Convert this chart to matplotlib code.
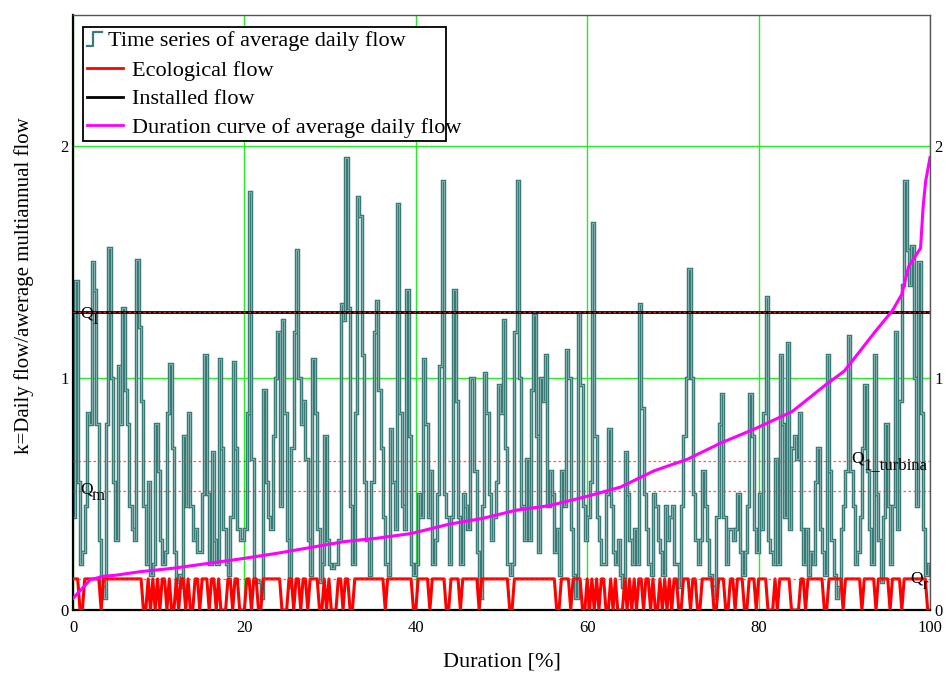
import matplotlib
matplotlib.use('Agg')
import matplotlib.pyplot as plt
import numpy as np
from matplotlib.legend_handler import HandlerBase
from matplotlib.lines import Line2D
from matplotlib.patches import Rectangle

# ---------------- data ----------------
flow_seg1 = [0.40, 1.42, 0.55, 0.20, 0.25, 0.45, 0.85, 0.80, 1.50, 1.38,
             0.80, 0.30, 0.10, 0.05, 0.80, 1.56, 1.00, 0.55, 0.30, 1.05,
             0.80, 1.30, 0.95, 0.80, 0.45, 0.35, 0.30, 1.51, 1.22, 0.90,
             0.45, 0.20, 0.55, 0.15, 0.20, 0.80, 0.60, 0.30, 0.20, 0.25,
             0.85, 1.06, 0.70, 0.25, 0.12, 0.15, 0.10, 0.75, 0.45, 0.85,
             0.45, 0.30, 0.35, 0.25, 0.25, 0.50, 1.10, 0.50, 0.20, 0.68,
             0.30, 0.20, 1.08, 0.70, 0.35, 0.20, 0.15, 0.40, 1.07, 0.70,
             0.35, 0.30, 0.30]
flow_seg2 = [0.35, 0.85, 1.80, 0.65, 0.13, 0.13, 0.12, 0.05, 0.95, 0.55,
             0.40, 0.35, 0.75, 1.00, 1.20, 0.45, 1.25, 0.85, 0.30, 0.10,
             0.70, 1.20, 1.55, 1.00, 0.80, 0.90, 0.65, 0.30, 0.15, 1.08,
             0.85, 0.35, 0.12, 0.20, 0.75, 0.30, 0.20, 0.18, 0.20, 0.20,
             0.30, 1.32, 1.25, 1.95, 1.30, 0.45, 0.20, 0.85, 1.78, 1.70,
             1.10, 0.55, 0.30, 0.15, 0.55, 1.20, 1.33, 0.95, 0.70, 0.40,
             0.20, 0.15, 0.78, 0.55, 0.35, 1.75, 0.85, 0.45, 0.35, 1.38,
             0.75, 0.20, 0.15]
flow_seg3 = [0.20, 0.50, 0.40, 1.08, 0.80, 0.40, 0.60, 0.20, 0.30, 0.50,
             1.05, 1.85, 0.50, 0.40, 0.20, 0.40, 1.38, 0.90, 0.40, 0.20,
             0.50, 0.45, 0.35, 1.00, 1.00, 0.60, 0.25, 0.05, 0.45, 1.02,
             0.85, 0.50, 0.30, 0.40, 0.55, 0.97, 0.85, 1.25, 0.70, 0.20,
             0.15, 0.20, 1.20, 1.85, 1.00, 0.45, 0.30, 0.65, 0.30, 0.95,
             1.27, 0.75, 0.25, 1.00, 0.90, 1.10, 0.45, 0.60, 0.50, 0.25,
             0.35, 0.15, 0.60, 0.45, 1.12, 1.00, 0.35, 0.15, 0.05, 1.28,
             0.97, 0.45, 0.30]
flow_seg4 = [0.40, 0.55, 1.67, 0.75, 0.40, 0.30, 0.20, 0.20, 0.50, 0.78,
             0.45, 0.25, 0.20, 0.30, 0.15, 0.10, 0.68, 0.50, 0.30, 0.20,
             0.35, 0.20, 1.32, 0.87, 0.50, 0.35, 0.20, 0.15, 0.50, 0.45,
             0.30, 0.25, 0.15, 0.45, 0.30, 0.40, 0.45, 0.20, 0.20, 0.10,
             0.45, 0.75, 1.00, 1.47, 1.00, 0.50, 0.30, 0.20, 0.30, 0.60,
             0.45, 0.30, 0.15, 0.10, 0.05, 0.40, 0.80, 0.93, 0.40, 0.20,
             0.35, 0.35, 0.30, 0.35, 0.50, 0.25, 0.15, 0.25, 0.45, 0.93,
             0.75, 0.35, 0.25]
flow_seg5 = [0.50, 0.35, 0.85, 1.35, 0.30, 0.25, 0.20, 0.65, 0.20, 1.10,
             0.80, 0.40, 1.15, 0.35, 0.70, 0.75, 0.65, 0.85, 0.35, 0.20,
             0.35, 0.15, 0.25, 0.20, 0.55, 0.70, 0.35, 0.25, 0.15, 1.10,
             0.60, 0.30, 0.15, 0.05, 0.10, 0.35, 0.45, 0.60, 1.18, 0.60,
             0.45, 0.20, 0.25, 0.40, 0.70, 0.97, 0.60, 0.35, 0.20, 1.10,
             0.50, 0.30, 0.12, 0.40, 0.80, 0.45, 0.20, 0.45, 1.20, 0.35,
             0.90, 1.40, 1.85, 1.55, 1.40, 1.57, 1.00, 0.45, 1.50, 0.85,
             0.35, 0.15, 0.20]

# days (0-based) on which the ecological flow drops to zero
eco_zero_days = [3, 4, 12, 30, 31, 33, 35, 37, 40, 42, 43, 45, 48, 50, 51, 54,
                 58, 61, 63, 64, 65, 68, 71, 72,
                 73, 76, 79, 80, 89, 90, 91, 94, 97, 100, 105, 106, 108, 110,
                 111, 112, 115, 118, 119, 133, 145,
                 146, 152, 159, 160, 165, 173, 186, 187, 206, 207, 212, 217, 218,
                 220, 222, 224, 227, 228, 230, 232, 233, 234, 236, 238, 240, 243,
                 246, 248, 249, 251, 253, 255, 258, 259, 263, 266, 267, 273, 274,
                 278, 279, 282, 286, 287, 291,
                 296, 297, 298, 300, 306, 307, 308, 309, 312, 320, 321, 328, 336,
                 342, 348, 353, 364]
eco_level = 0.134

dur_pct = [0, 1, 2, 3.5, 5, 7.8, 11.7, 15.6, 19.5, 23.9, 27.8, 31.7, 35.6,
           39.5, 43.9, 47.8, 51.7, 55.6, 60, 63.9, 67.8, 71.7, 75.6, 79.5,
           83.9, 87.8, 90, 91.7, 93.6, 95.6, 96.7, 97.5, 98.9, 99.2, 99.5,
           99.8, 100]
dur_val = [0.05, 0.09, 0.13, 0.145, 0.15, 0.165, 0.18, 0.20, 0.22, 0.245,
           0.27, 0.295, 0.31, 0.33, 0.37, 0.395, 0.43, 0.45, 0.49, 0.53,
           0.60, 0.65, 0.72, 0.78, 0.855, 0.97, 1.03, 1.11, 1.20, 1.29,
           1.36, 1.48, 1.56, 1.74, 1.85, 1.91, 1.95]

Q_installed = 1.284
Q_turbina = 0.642
Q_m = 0.513

q_labels = ['I', 'm', '1_turbina', 'r']
q_label_x = [0.82, 0.82, 90.8, 97.7]
q_label_y = [1.263, 0.504, 0.638, 0.12]

legend_labels = ['Time series of average daily flow', 'Ecological flow',
                 'Installed flow', 'Duration curve of average daily flow']

# ---------------- style ----------------
plt.rcParams['font.family'] = ['Liberation Serif', 'DejaVu Serif']

fig = plt.figure(figsize=(9.46, 6.78), dpi=100)
ax = fig.add_axes([73/946, 68/678, 857/946, 595/678])

flow = np.array(flow_seg1 + flow_seg2 + flow_seg3 + flow_seg4 + flow_seg5)
n = len(flow)
x_flow = np.arange(n + 1) * 100.0 / n
y_flow = np.append(flow, flow[-1])

eco = np.full(n, eco_level)
eco[[d for d in eco_zero_days if d < n]] = 0.0
x_eco = np.append(np.arange(n) * 100.0 / n, 100.0)
y_eco = np.append(eco, 0.0)

teal = '#3a7b78'
ax.grid(True, color='#22ee22', lw=1.0, zorder=0)
ax.set_axisbelow(True)

ax.plot(x_flow, y_flow, drawstyle='steps-post', color=teal, lw=2.5,
        zorder=2, solid_joinstyle='miter')
ax.plot(x_flow, y_flow, drawstyle='steps-post', color='#9cc6c2', lw=0.5,
        zorder=2.1)
ax.plot(x_eco, y_eco, color='red', lw=2.2, zorder=3)
ax.axhline(Q_installed, color='black', lw=2.0, zorder=4)
ax.plot(dur_pct, dur_val, color='magenta', lw=2.2, zorder=5)

for q in [Q_installed, Q_turbina, Q_m, eco_level]:
    ax.axhline(q, color='#ff3030', lw=0.9, ls=(0, (2, 2)), zorder=4.5, alpha=0.8)

for sub, qx, qy in zip(q_labels, q_label_x, q_label_y):
    ax.text(qx, qy, 'Q', fontsize=12.5, va='baseline', ha='left', zorder=6)
    ax.annotate(sub, xy=(qx, qy), xytext=(8.6, -5), textcoords='offset points',
                fontsize=12, va='baseline', ha='left', zorder=6)

ax.set_xlim(0, 100)
ax.set_ylim(0, 2.565)
ax.set_xticks([0, 20, 40, 60, 80, 100])
ax.set_yticks([0, 1, 2])
ax.tick_params(axis='both', length=0, labelsize=12)
ax.tick_params(axis='x', pad=7)
ax.tick_params(axis='y', pad=3, labelright=True)

for s in ['left', 'bottom']:
    ax.spines[s].set_color('black')
    ax.spines[s].set_linewidth(1.6)
for s in ['top', 'right']:
    ax.spines[s].set_color('#555555')
    ax.spines[s].set_linewidth(1.0)

ax.set_xlabel('Duration [%]', fontsize=16, labelpad=12)
ax.set_ylabel('k=Daily flow/awerage multiannual flow', fontsize=15)
ax.yaxis.set_label_coords(-0.0455, 0.545)


class StepHandler(HandlerBase):
    def create_artists(self, legend, orig_handle, xdescent, ydescent,
                       width, height, fontsize, trans):
        w = width * 0.42
        xs = np.array([0, 0.4 * w, 0.4 * w, w]) - xdescent
        ys = np.array([0.05 * height, 0.05 * height, 0.95 * height, 0.95 * height]) - ydescent
        ln = Line2D(xs, ys, color=teal, lw=1.6, transform=trans)
        return [ln]


h_flow = Line2D([], [], color=teal)
h_eco = Line2D([], [], color='red', lw=2)
h_inst = Line2D([], [], color='black', lw=2)
h_dur = Line2D([], [], color='magenta', lw=2)
leg_box = Rectangle((0.0117, 0.788), 0.4235, 0.192, transform=ax.transAxes,
                    facecolor='white', edgecolor='black', lw=1.3, zorder=9)
ax.add_patch(leg_box)
leg = ax.legend([h_flow, h_eco, h_inst, h_dur],
                [' '] + legend_labels[1:],
                handler_map={h_flow: StepHandler()},
                loc='upper left', bbox_to_anchor=(0.0117, 0.98),
                borderaxespad=0, fontsize=16, frameon=False,
                handlelength=1.6, handletextpad=0.4, labelspacing=0.37,
                borderpad=0.2)
leg.set_zorder(10)
ax.text(0.0408, 0.957, legend_labels[0], transform=ax.transAxes, fontsize=16,
        va='center', ha='left', zorder=11)

fig.savefig('out.png', dpi=100)
